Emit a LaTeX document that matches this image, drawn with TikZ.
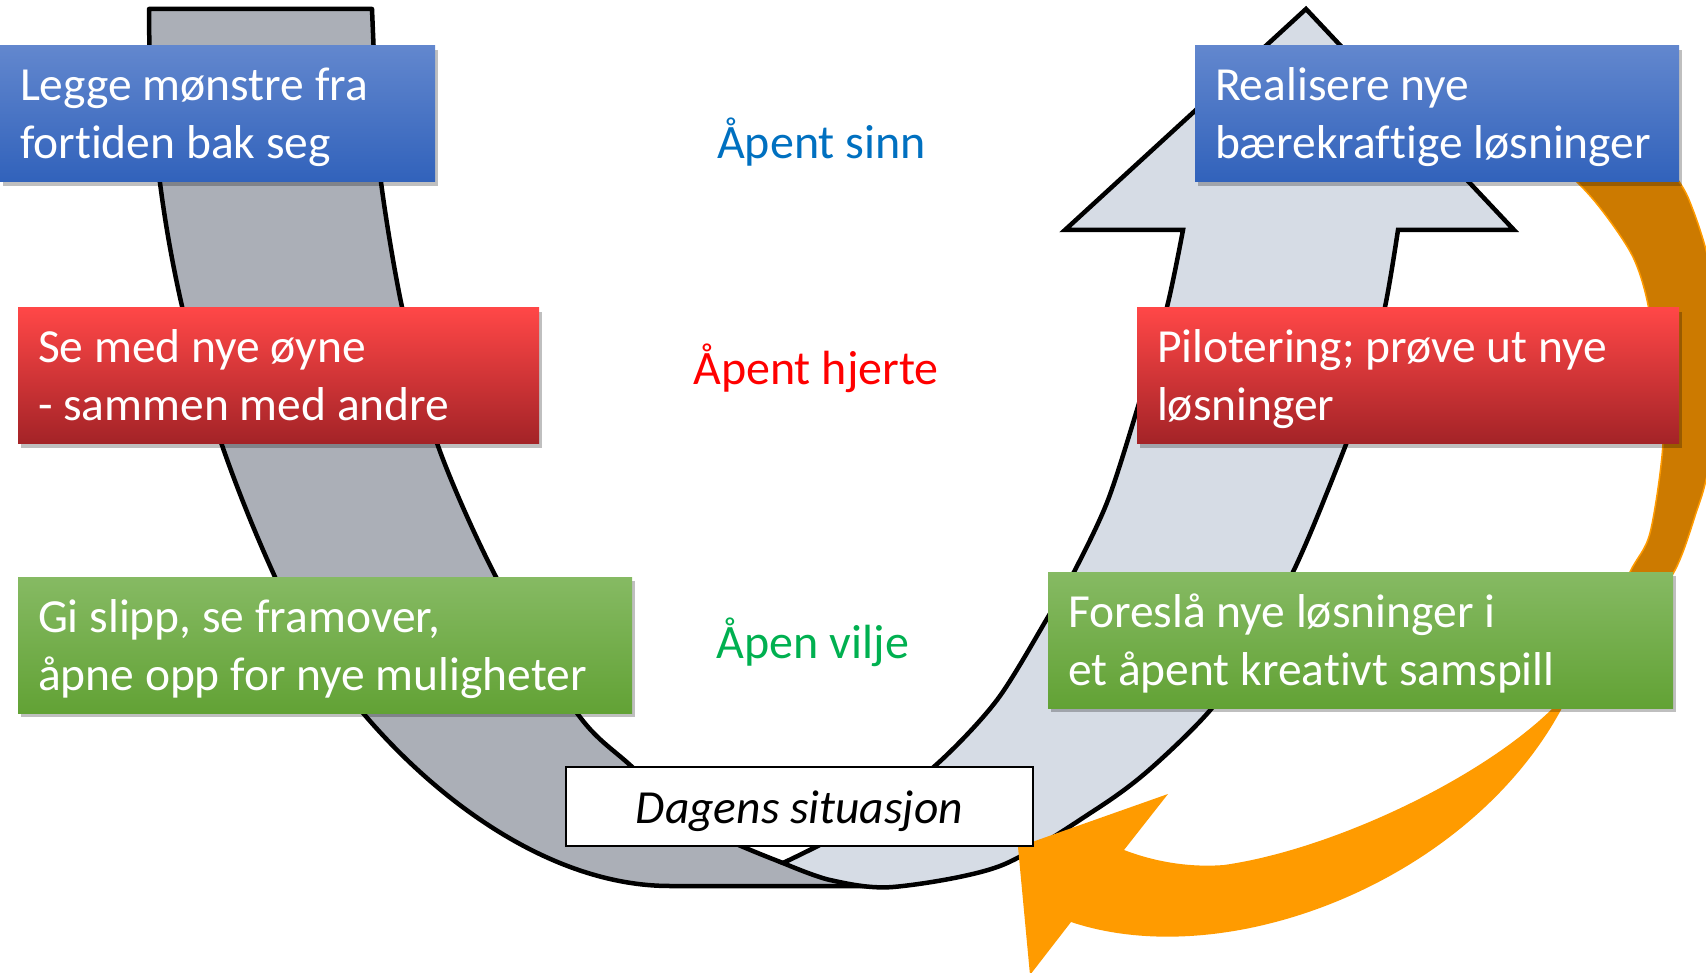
\documentclass[tikz,border=0pt]{standalone}
\usepackage{fontspec}
\setmainfont{Carlito}[Ligatures=NoCommon]
\usetikzlibrary{shadows}
\definecolor{grayfill}{HTML}{ABAFB7}
\definecolor{bluefill}{HTML}{D6DCE5}
\definecolor{bluetop}{HTML}{6287CE}
\definecolor{bluebot}{HTML}{3162BB}
\definecolor{redtop}{HTML}{FF4747}
\definecolor{redbot}{HTML}{A32327}
\definecolor{greentop}{HTML}{86BA63}
\definecolor{greenbot}{HTML}{62A235}
\definecolor{orangedark}{HTML}{CC7A00}
\definecolor{orangebright}{HTML}{FF9B00}
\definecolor{lblue}{HTML}{0070C0}
\definecolor{lred}{HTML}{FF0000}
\definecolor{lgreen}{HTML}{00B050}
\newcommand\bstrut{\rule[-13pt]{0pt}{58pt}}
\tikzset{
  band/.style={draw=black, line width=4.5pt, line join=miter},
  txtbox/.style={rectangle, inner xsep=20pt, inner ysep=0pt, minimum height=136pt,
    align=flush left, text=white, font=\fontsize{47.5pt}{58pt}\selectfont,
    drop shadow={shadow xshift=3pt, shadow yshift=-4pt, opacity=0.25, fill=black}},
  bluebox/.style={txtbox, top color=bluetop, bottom color=bluebot},
  redbox/.style={txtbox, top color=redtop, bottom color=redbot},
  greenbox/.style={txtbox, top color=greentop, bottom color=greenbot},
  situbox/.style={draw=black, line width=2.5pt, fill=white, minimum width=467pt,
    minimum height=79pt, inner sep=0pt, text height=38pt, text depth=5pt,
    font=\fontsize{47.5pt}{58pt}\selectfont\itshape},
  midlabel/.style={anchor=base, font=\fontsize{48pt}{60pt}\selectfont, inner sep=0pt}
}
\begin{document}
\begin{tikzpicture}[x=1pt, y=-1pt]
\useasboundingbox (0,0) rectangle (1706,973);

% gray (descending) band
\filldraw[band, fill=grayfill, line join=round] (149,9) -- (372,9)
  -- plot[smooth, tension=0.5] coordinates {(372,9) (376,100) (381,182) (402,307) (437,443) (496,577) (577,713) (630,765) (700,826) (783,863)}
  -- (860,835) -- (893,886) -- (670,886)
  .. controls (505,886) and (340,720) .. (275,577)
  .. controls (210,434) and (149,250) .. (149,9)
  -- cycle;

% light blue (ascending) arrow
\filldraw[band, fill=bluefill] (783,863)
  -- plot[smooth, tension=0.5] coordinates {(783,863) (860,823) (936,765) (997,700) (1048,617) (1074,572) (1108,500) (1140,400) (1167,307) (1183,230)}
  -- (1065,230) -- (1306,9) -- (1514,230) -- (1398,230)
  -- plot[smooth, tension=0.5] coordinates {(1398,230) (1385,307) (1362,400) (1324,500) (1293,572) (1256,640) (1212,708) (1149,770) (1095,810) (1000,866) (893,887) (830,880) (783,863)}
  -- cycle;

% orange curved arrow
\begin{scope}
\clip (0,0) rectangle (1706,973);
\filldraw[fill=orangedark, draw=orangebright, line width=1.5pt]
  plot[smooth, tension=0.5] coordinates {(1500,110) (1577,182) (1607,217) (1633,257) (1647,300) (1658,370) (1663,443) (1650,533) (1630,572) (1600,640)}
  -- plot[smooth, tension=0.5] coordinates {(1625,640) (1674,572) (1697,510) (1706,480) (1718,420) (1722,360) (1716,300) (1706,250) (1693,210) (1680,183) (1640,130) (1600,100)}
  -- cycle;
\fill[orangebright] (1595,640) -- (1553,708)
  .. controls (1480,780) and (1330,850) .. (1224,865)
  .. controls (1185,868) and (1150,860) .. (1124,850)
  -- (1168,794) -- (1018,847) -- (1030,975) -- (1071,922)
  .. controls (1230,975) and (1470,880) .. (1562,708)
  -- (1610,640) -- cycle;
\end{scope}

% text boxes
\node[bluebox, text width=395pt] (b1) at (217.5,114) {\bstrut Legge mønstre fra\\\bstrut fortiden bak seg};
\node[redbox, text width=481pt] (r1) at (278.5,376) {\bstrut Se med nye øyne\\\bstrut - sammen med andre};
\node[greenbox, text width=574pt] (g1) at (325,645) {\bstrut Gi slipp, se framover,\\\bstrut åpne opp for nye muligheter};
\node[bluebox, text width=444pt] (b2) at (1437,114) {\bstrut Realisere nye\\\bstrut bærekraftige løsninger};
\node[redbox, text width=502pt] (r2) at (1408,376) {\bstrut Pilotering; prøve ut nye\\\bstrut løsninger};
\node[greenbox, text width=585pt] (g2) at (1360.5,640) {\bstrut Foreslå nye løsninger i\\\bstrut et åpent kreativt samspill};

% current situation
\node[situbox] (dag) at (799.5,806.5) {Dagens situasjon};

% middle labels
\node[midlabel, text=lblue] (l1) at (821.5,159) {Åpent sinn};
\node[midlabel, text=lred] (l2) at (816,385) {Åpent hjerte};
\node[midlabel, text=lgreen] (l3) at (813,658) {Åpen vilje};
\end{tikzpicture}
\end{document}
